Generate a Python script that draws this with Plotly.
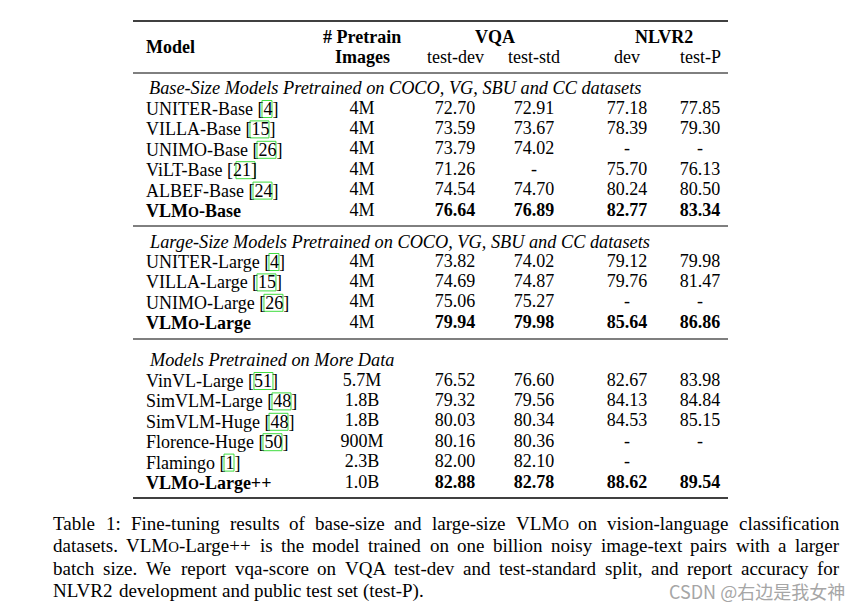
import plotly.graph_objects as go

# ---------------- data ----------------
section_titles = [
    "Base-Size Models Pretrained on COCO, VG, SBU and CC datasets",
    "Large-Size Models Pretrained on COCO, VG, SBU and CC datasets",
    "Models Pretrained on More Data",
]
models = [
    ["UNITER-Base", "VILLA-Base", "UNIMO-Base", "ViLT-Base", "ALBEF-Base", "VLMo-Base"],
    ["UNITER-Large", "VILLA-Large", "UNIMO-Large", "VLMo-Large"],
    ["VinVL-Large", "SimVLM-Large", "SimVLM-Huge", "Florence-Huge", "Flamingo", "VLMo-Large++"],
]
refs = [
    ["4", "15", "26", "21", "24", None],
    ["4", "15", "26", None],
    ["51", "48", "48", "50", "1", None],
]
pretrain_images = [
    ["4M", "4M", "4M", "4M", "4M", "4M"],
    ["4M", "4M", "4M", "4M"],
    ["5.7M", "1.8B", "1.8B", "900M", "2.3B", "1.0B"],
]
vqa_test_dev = [
    [72.70, 73.59, 73.79, 71.26, 74.54, 76.64],
    [73.82, 74.69, 75.06, 79.94],
    [76.52, 79.32, 80.03, 80.16, 82.00, 82.88],
]
vqa_test_std = [
    [72.91, 73.67, 74.02, None, 74.70, 76.89],
    [74.02, 74.87, 75.27, 79.98],
    [76.60, 79.56, 80.34, 80.36, 82.10, 82.78],
]
nlvr2_dev = [
    [77.18, 78.39, None, 75.70, 80.24, 82.77],
    [79.12, 79.76, None, 85.64],
    [82.67, 84.13, 84.53, None, None, 88.62],
]
nlvr2_test_p = [
    [77.85, 79.30, None, 76.13, 80.50, 83.34],
    [79.98, 81.47, None, 86.86],
    [83.98, 84.84, 85.15, None, "", 89.54],
]
sub_headers = ["Images", "test-dev", "test-std", "dev", "test-P"]
caption_lines = [
    "Table 1: Fine-tuning results of base-size and large-size VLMo on vision-language classification",
    "datasets. VLMo-Large++ is the model trained on one billion noisy image-text pairs with a larger",
    "batch size. We report vqa-score on VQA test-dev and test-standard split, and report accuracy for",
    "NLVR2 development and public test set (test-P).",
]
watermark = "CSDN @右边是我女神"

# ---------------- style / layout ----------------
SERIF = "Liberation Serif, Times New Roman, serif"
FS = 18          # table font size
TITLE_FS = 18.3  # italic section titles
CAP_FS = 19      # caption font size
ROW_H = 20.4
X_MODEL = 145
X_TITLE = 148
COL_X = [362, 455, 534, 627, 700]
SECTION_Y = [(88, 109), (242, 262), (360, 381)]  # (title y, first row y)
RULES = [(21, 1.6, "black"), (73, 1, "black"), (226, 1, "black"), (339, 1.6, "#555"), (498, 1.6, "black")]
TABLE_X0, TABLE_X1 = 133, 728
CAP_X0, CAP_X1 = 52, 838
CAP_Y0, CAP_DY = 523, 22.5
BOX_COLOR = "#3fdc3f"
PAGE_MARGIN = 8  # default body margin of the html page

# Times New Roman advance widths (1/1000 em)
W = {' ': 250, '!': 333, '(': 333, ')': 333, '+': 564, ',': 250, '-': 333, '.': 250,
     '/': 278, ':': 278, '[': 333, ']': 333, '@': 921}
for c in "0123456789":
    W[c] = 500
W.update(dict(zip("ABCDEFGHIJKLMNOPQRSTUVWXYZ",
                  [722, 667, 667, 722, 611, 556, 722, 722, 333, 389, 722, 611, 889, 722, 722,
                   556, 722, 667, 556, 611, 722, 722, 944, 722, 722, 611])))
W.update(dict(zip("abcdefghijklmnopqrstuvwxyz",
                  [444, 500, 444, 500, 444, 333, 500, 500, 278, 278, 500, 278, 778, 500, 500,
                   500, 500, 333, 389, 278, 500, 500, 722, 500, 500, 444])))
SC = 0.78  # small-cap scale


def text_width(s, size):
    total = 0.0
    i = 0
    while i < len(s):
        if s.startswith("VLMo", i):
            total += (W['V'] + W['L'] + W['M'] + SC * W['O'])
            i += 4
            continue
        total += W.get(s[i], 500)
        i += 1
    return total * size / 1000.0


def small_caps(s, size):
    return s.replace("VLMo", "VLM<span style='font-size:%.1fpx'>O</span>" % (size * SC))


def fmt(v):
    if v is None:
        return "-"
    if isinstance(v, str):
        return v
    return "%.2f" % v


fig = go.Figure()

# numeric / pretrain columns as text traces
columns = [pretrain_images, vqa_test_dev, vqa_test_std, nlvr2_dev, nlvr2_test_p]
for ci, (cx, col) in enumerate(zip(COL_X, columns)):
    xs, ys, ts = [], [], []
    for s, (ty, r0) in enumerate(SECTION_Y):
        for i, v in enumerate(col[s]):
            t = fmt(v)
            if models[s][i].startswith("VLMo") and ci > 0:
                t = "<b>%s</b>" % t
            xs.append(cx)
            ys.append(r0 + i * ROW_H)
            ts.append(t)
    fig.add_trace(go.Scatter(x=xs, y=ys, mode="text", text=ts, textposition="middle center",
                             textfont=dict(family=SERIF, size=FS, color="black"),
                             hoverinfo="skip", showlegend=False))

annotations = []
shapes = []


def ann(x, y, text, size=FS, anchor="left", family=SERIF, color="black"):
    annotations.append(dict(x=x, y=y, xref="x", yref="y", text=text, showarrow=False,
                            xanchor=anchor, yanchor="middle", borderpad=0,
                            font=dict(family=family, size=size, color=color)))


# headers
ann(X_MODEL, 47, "<b>Model</b>")
ann(COL_X[0], 37, "<b># Pretrain</b>", anchor="center")
ann((COL_X[1] + COL_X[2]) / 2, 37, "<b>VQA</b>", anchor="center")
ann((COL_X[3] + COL_X[4]) / 2, 37, "<b>NLVR2</b>", anchor="center")
for j, h in enumerate(sub_headers):
    ann(COL_X[j], 57, "<b>%s</b>" % h if j == 0 else h, anchor="center")

# sections
for s, (ty, r0) in enumerate(SECTION_Y):
    ann(X_TITLE, ty, "<i>%s</i>" % section_titles[s], size=TITLE_FS)
    for i, name in enumerate(models[s]):
        y = r0 + i * ROW_H
        ref = refs[s][i]
        if ref is None:
            ann(X_MODEL, y, "<b>%s</b>" % small_caps(name, FS))
        else:
            ann(X_MODEL, y, "%s [%s]" % (name, ref))
            bx0 = X_MODEL + text_width(name + " [", FS)
            bx1 = bx0 + text_width(ref, FS)
            shapes.append(dict(type="rect", xref="x", yref="y", x0=bx0 - 0.5, x1=bx1 + 0.5,
                               y0=y - 8.5, y1=y + 8.5, line=dict(color=BOX_COLOR, width=1)))

# rules
for y, w, c in RULES:
    shapes.append(dict(type="line", xref="x", yref="y", x0=TABLE_X0, x1=TABLE_X1, y0=y, y1=y,
                       line=dict(color=c, width=w)))

# caption (justified, word by word)
for li, line in enumerate(caption_lines):
    y = CAP_Y0 + li * CAP_DY
    words = line.split(" ")
    widths = [text_width(wd, CAP_FS) for wd in words]
    if li < len(caption_lines) - 1:
        gap = (CAP_X1 - CAP_X0 - sum(widths)) / (len(words) - 1)
    else:
        gap = W[' '] * CAP_FS / 1000.0
    x = CAP_X0
    for wd, ww in zip(words, widths):
        ann(x, y, small_caps(wd, CAP_FS), size=CAP_FS)
        x += ww + gap

# watermark
ann(846, 591, watermark, size=18, anchor="right",
    family="Noto Sans CJK SC, Noto Sans, sans-serif", color="#a6a6a6")

fig.update_layout(
    width=861 - PAGE_MARGIN, height=616 - PAGE_MARGIN,
    margin=dict(l=0, r=0, t=0, b=0),
    paper_bgcolor="white", plot_bgcolor="white",
    xaxis=dict(range=[PAGE_MARGIN, 861], visible=False, fixedrange=True),
    yaxis=dict(range=[616, PAGE_MARGIN], visible=False, fixedrange=True),
    annotations=annotations, shapes=shapes,
    font=dict(family=SERIF, color="black"),
)

fig.write_html("out.html")
